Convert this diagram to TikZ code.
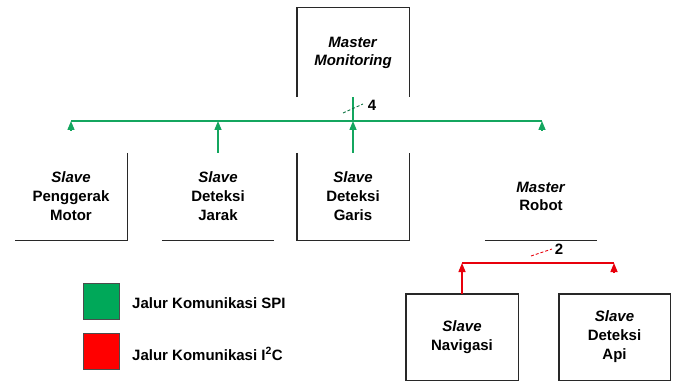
\documentclass[tikz,border=0pt]{standalone}
\usepackage{fontspec}
\setmainfont{Liberation Sans}
\usetikzlibrary{arrows.meta}
\definecolor{spigreen}{RGB}{20,166,95}
\definecolor{sqgreen}{RGB}{0,168,89}
\definecolor{i2cred}{RGB}{232,0,12}
\definecolor{edgegray}{RGB}{40,40,40}
\tikzset{
  lbl/.style={font=\fontsize{15}{19}\selectfont\bfseries, align=center, inner sep=0pt},
  unit/.style={lbl, minimum width=112pt, minimum height=87pt},
  edge/.style={draw=edgegray, line width=1.4pt},
  spi/.style={draw=spigreen, line width=1.4pt},
  i2c/.style={draw=i2cred, line width=1.4pt},
  tipg/.style={-{Triangle[width=7pt,length=9pt]}},
  legsq/.style={minimum width=36pt, minimum height=36pt, inner sep=0pt, draw=black!70, line width=0.6pt},
  legtxt/.style={font=\fontsize{15}{19}\selectfont\bfseries, anchor=base west, inner sep=0pt}
}
\begin{document}
\begin{tikzpicture}[x=1pt,y=-1pt]
\useasboundingbox (0,0) rectangle (677,382);
\fill[white] (0,0) rectangle (677,382);

% nodes
\node[unit, minimum height=89pt, font=\fontsize{15}{18}\selectfont\bfseries] (mm) at (353,52.5) {\textit{Master}\\\textit{Monitoring}};
\node[unit] (pm) at (71,196.5) {\textit{Slave}\\Penggerak\\Motor};
\node[unit] (dj) at (218,196.5) {\textit{Slave}\\Deteksi\\Jarak};
\node[unit] (dg) at (353,196.5) {\textit{Slave}\\Deteksi\\Garis};
\node[unit, font=\fontsize{15}{18.5}\selectfont\bfseries] (mr) at (541,196.5) {\textit{Master}\\Robot};
\node[unit, minimum height=86pt] (nv) at (462,337) {\textit{Slave}\\Navigasi};
\node[unit, minimum width=111pt, minimum height=86pt] (da) at (614.5,337) {\textit{Slave}\\Deteksi\\Api};

% partial outlines
\draw[edge] (mm.south west) -- (mm.north west) -- (mm.north east) -- (mm.south east);
\draw[edge] (pm.north east) -- (pm.south east) -- (pm.south west);
\draw[edge] (dj.south west) -- (dj.south east);
\draw[edge] (dg.north west) -- (dg.south west) -- (dg.south east) -- (dg.north east);
\draw[edge] (mr.south west) -- (mr.south east);
\draw[edge] (nv.south west) rectangle (nv.north east);
\draw[edge] (da.south west) rectangle (da.north east);

% SPI bus
\coordinate (busL) at (71,121);
\coordinate (busR) at (542,121);
\coordinate (stubL) at (71,131);
\coordinate (stubR) at (542,131);
\draw[spi] (busL) -- (busR);
\draw[spi, tipg] (stubL) -- (busL);
\draw[spi, tipg] (stubR) -- (busR);
\draw[spi, tipg] (dj.north) -- (dj.north |- busL);
\draw[spi, tipg] (dg.north) -- (dg.north |- busL);
\draw[spi] (dg.north |- busL) -- (mm.south);
\coordinate (s4a) at (343,113);
\coordinate (s4b) at (363,104);
\draw[draw=spigreen!70!black, line width=0.9pt, dash pattern=on 3pt off 2pt] (s4a) -- (s4b);
\node[font=\fontsize{15}{18}\selectfont\bfseries, inner sep=0pt] (n4) at (372,105) {4};

% I2C bus
\coordinate (rL) at (462,263);
\coordinate (rR) at (614,263);
\coordinate (rstub) at (614,273);
\draw[i2c] (rL) -- (rR);
\draw[i2c, tipg] (rstub) -- (rR);
\draw[i2c, tipg] (nv.north) -- (rL);
\coordinate (s2a) at (531,256);
\coordinate (s2b) at (552,249);
\draw[draw=i2cred, line width=0.9pt, dash pattern=on 3pt off 2pt] (s2a) -- (s2b);
\node[font=\fontsize{15}{18}\selectfont\bfseries, inner sep=0pt] (n2) at (559,249) {2};

% legend
\node[legsq, fill=sqgreen] (lg) at (101,301) {};
\node[legsq, fill=red] (lr) at (101,351) {};
\node[legtxt] (tg) at (132,308) {Jalur Komunikasi SPI};
\node[legtxt] (tr) at (132,360) {Jalur Komunikasi I\textsuperscript{2}C};
\end{tikzpicture}
\end{document}
